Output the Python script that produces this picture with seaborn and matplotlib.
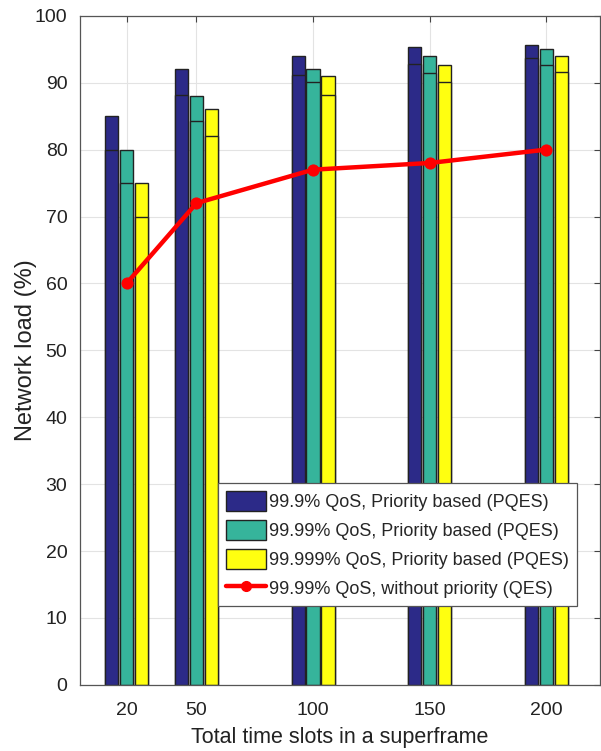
import pandas as pd
import matplotlib
matplotlib.use('Agg')
import matplotlib.pyplot as plt
import seaborn as sns
from matplotlib.patches import Patch
from matplotlib.lines import Line2D

# data
slots = [20, 50, 100, 150, 200]
qos_999 = [85, 92, 94, 95.4, 95.6]        # 99.9% QoS, PQES (bar top)
qos_9999 = [80, 88, 92, 94, 95.1]         # 99.99% QoS, PQES
qos_99999 = [75, 86, 91, 92.7, 94]        # 99.999% QoS, PQES
inner_999 = [80, 88.2, 91.2, 92.8, 93.7]  # inner line of each bar
inner_9999 = [75, 84.2, 90.1, 91.4, 92.6]
inner_99999 = [70, 82.1, 88.1, 90.1, 91.6]
no_priority = [60, 72, 77, 78, 80]        # 99.99% QoS, without priority (QES)

labels = ['99.9% QoS, Priority based (PQES)',
          '99.99% QoS, Priority based (PQES)',
          '99.999% QoS, Priority based (PQES)']
line_label = '99.99% QoS, without priority (QES)'
colors = ['#2C2A88', '#36B49B', '#FFFF10']

df_top = pd.DataFrame({
    'slots': slots * 3,
    'load': qos_999 + qos_9999 + qos_99999,
    'series': [labels[0]] * 5 + [labels[1]] * 5 + [labels[2]] * 5,
})
df_in = pd.DataFrame({
    'slots': slots * 3,
    'load': inner_999 + inner_9999 + inner_99999,
    'series': [labels[0]] * 5 + [labels[1]] * 5 + [labels[2]] * 5,
})
df_line = pd.DataFrame({'slots': slots, 'load': no_priority})

sns.set_style('white')
plt.rcParams['font.family'] = ['Liberation Sans', 'DejaVu Sans']

fig = plt.figure(figsize=(6.01, 7.51), dpi=100)
ax = fig.add_axes([0.133, 0.088, 0.865, 0.891])

# full bars then lower part drawn on top -> gives the inner line
for d in [df_top, df_in]:
    sns.barplot(data=d, x='slots', y='load', hue='series', hue_order=labels,
                palette=colors, native_scale=True, width=0.64, gap=0.12,
                edgecolor='#222222', linewidth=1.0, legend=False, ax=ax,
                errorbar=None, saturation=1)

sns.lineplot(data=df_line, x='slots', y='load', color='#FF0000', linewidth=3.2,
             marker='o', markersize=8, markeredgecolor='#FF0000', ax=ax, zorder=5)

ax.set_xlim(0, 223)
ax.set_ylim(0, 100)
ax.set_xticks(slots)
ax.set_xticklabels([str(s) for s in slots])
ax.set_yticks(range(0, 101, 10))
ax.grid(True, color='#E3E3E3', linewidth=0.8)
ax.set_axisbelow(True)
ax.tick_params(direction='in', length=4, color='#444444', labelsize=14,
               top=True, right=True, labelcolor='#222222')
ax.tick_params(axis='x', pad=12)
ax.tick_params(axis='y', pad=9)
for s in ax.spines.values():
    s.set_color('#555555')
    s.set_linewidth(0.9)

ax.set_xlabel('Total time slots in a superframe', fontsize=15.5, color='#222222', labelpad=6)
ax.set_ylabel('Network load (%)', fontsize=17, color='#222222')
ax.yaxis.set_label_coords(-0.082, 0.5)

handles = [Patch(facecolor=c, edgecolor='#222222', linewidth=1.0) for c in colors]
handles.append(Line2D([], [], color='#FF0000', linewidth=3.2, marker='o', markersize=7))
leg = ax.legend(handles, labels + [line_label], loc='lower left',
                bbox_to_anchor=(0.265, 0.118), fontsize=13, frameon=True,
                fancybox=False, edgecolor='#555555', framealpha=1,
                handlelength=2.2, handleheight=1.3, handletextpad=0.2,
                labelspacing=0.5, borderpad=0.45, borderaxespad=0)
leg.get_frame().set_linewidth(0.9)

fig.savefig('out.png', dpi=100)
